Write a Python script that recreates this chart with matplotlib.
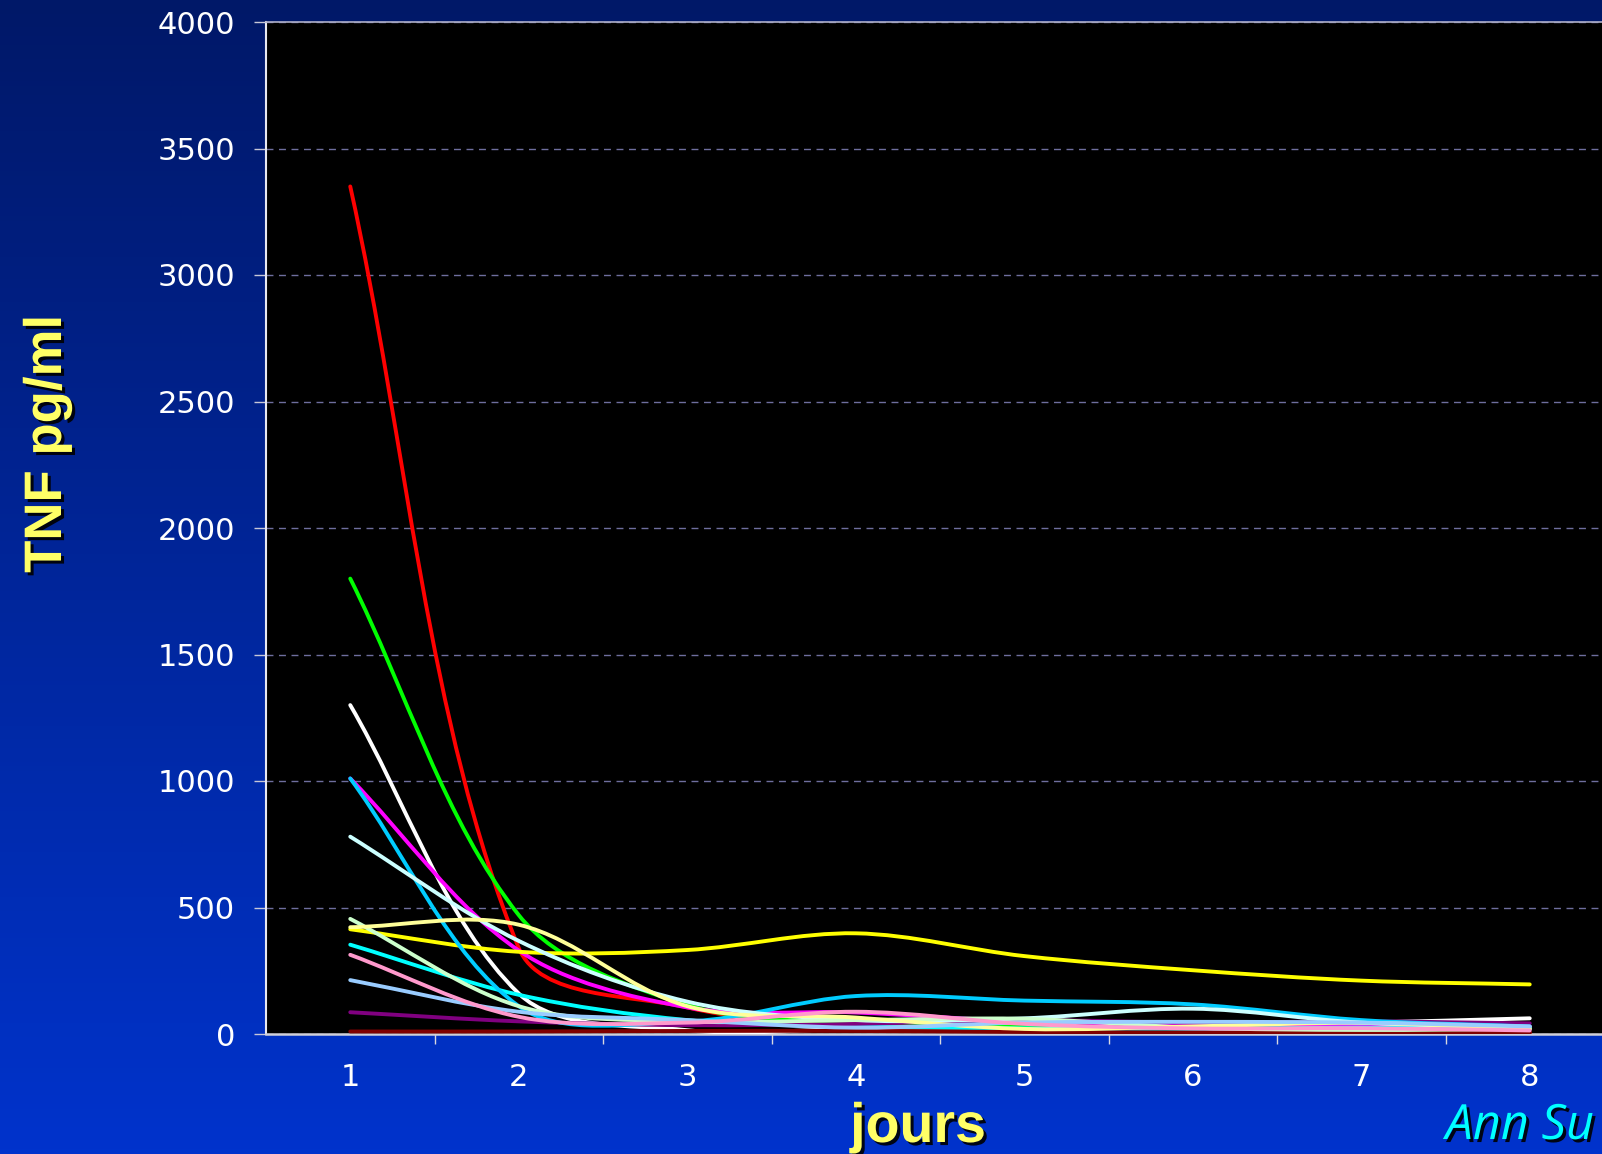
import numpy as np
import matplotlib
matplotlib.use("Agg")
import matplotlib.pyplot as plt
from matplotlib.path import Path
from matplotlib.patches import PathPatch
import matplotlib.patheffects as pe

# ---- data: TNF (pg/ml) per patient over 8 days ----
days = [1, 2, 3, 4, 5, 6, 7, 8]
day_labels = ["1", "2", "3", "4", "5", "6", "7", "8"]
y_ticks = [0, 500, 1000, 1500, 2000, 2500, 3000, 3500, 4000]
y_tick_labels = ["0", "500", "1000", "1500", "2000", "2500", "3000", "3500", "4000"]

tnf_white = [1300, 160, 15, 20, 20, 35, 45, 62]
tnf_red = [3350, 340, 105, 30, 15, 12, 10, 6]
tnf_green = [1800, 470, 115, 45, 30, 30, 32, 22]
tnf_magenta = [1010, 330, 105, 85, 50, 40, 35, 30]
tnf_yellow = [414, 325, 332, 398, 308, 252, 211, 196]
tnf_cyan = [353, 155, 55, 30, 22, 20, 25, 22]
tnf_purple = [86, 50, 35, 40, 55, 45, 50, 42]
tnf_darkred = [10, 10, 12, 12, 8, 6, 5, 5]
tnf_skyblue = [1010, 110, 50, 150, 132, 117, 55, 30]
tnf_turquoise = [780, 368, 128, 55, 62, 100, 45, 28]
tnf_lightgreen = [455, 110, 50, 55, 60, 25, 16, 20]
tnf_lightyellow = [422, 432, 110, 65, 20, 30, 44, 20]
tnf_paleblue = [213, 88, 55, 25, 45, 48, 45, 30]
tnf_rose = [313, 68, 45, 88, 40, 22, 23, 14]

series = [
    (tnf_white, "#ffffff"),
    (tnf_red, "#ff0000"),
    (tnf_green, "#00ff00"),
    (tnf_magenta, "#ff00ff"),
    (tnf_yellow, "#ffff00"),
    (tnf_cyan, "#00ffff"),
    (tnf_purple, "#800080"),
    (tnf_darkred, "#800000"),
    (tnf_skyblue, "#00ccff"),
    (tnf_turquoise, "#ccffff"),
    (tnf_lightgreen, "#ccffcc"),
    (tnf_lightyellow, "#ffff99"),
    (tnf_paleblue, "#99ccff"),
    (tnf_rose, "#ff99cc"),
]

W, H = 1602, 1154
fig = plt.figure(figsize=(W / 100, H / 100), dpi=100)

# slide background: vertical navy-to-blue gradient
bg = fig.add_axes([0, 0, 1, 1], zorder=0)
t = np.linspace(0, 1, 256)[:, None, None]
top_col = np.array([0x00, 0x18, 0x68]) / 255.0
bot_col = np.array([0x00, 0x33, 0xcc]) / 255.0
grad = top_col + (bot_col - top_col) * t
bg.imshow(grad, aspect="auto", extent=[0, 1, 0, 1], origin="upper")
bg.set_axis_off()

# plot area (runs past the right edge of the slide)
ax = fig.add_axes([266 / W, 120 / H, (1614 - 266) / W, 1012 / H], zorder=1)
ax.set_facecolor("black")
ax.set_xlim(0.5, 8.5)
ax.set_ylim(0, 4000)


def smooth_path(ax, xs, ys):
    """Smoothed line through the points: cubic Bezier segments whose
    control points follow the neighbouring chord, computed in screen space."""
    T = ax.transData
    P = T.transform(np.column_stack([xs, ys]).astype(float))
    n = len(P)
    cin = [None] * n
    cout = [None] * n
    for i in range(1, n - 1):
        tan = P[i + 1] - P[i - 1]
        dp = np.linalg.norm(P[i] - P[i - 1])
        dn = np.linalg.norm(P[i + 1] - P[i])
        s = dp + dn
        cin[i] = P[i] - tan * dp / s / 3.0
        cout[i] = P[i] + tan * dn / s / 3.0
    cout[0] = P[0] + (P[1] - P[0]) / 3.0
    cin[n - 1] = P[n - 1] + (P[n - 2] - P[n - 1]) / 3.0
    verts = [P[0]]
    codes = [Path.MOVETO]
    for i in range(n - 1):
        verts += [cout[i], cin[i + 1], P[i + 1]]
        codes += [Path.CURVE4] * 3
    verts = T.inverted().transform(np.array(verts))
    return Path(verts, codes)


for k, (vals, col) in enumerate(series):
    patch = PathPatch(smooth_path(ax, days, vals), facecolor="none",
                      edgecolor=col, lw=2.8, capstyle="round",
                      joinstyle="round", zorder=3 + k * 0.01)
    ax.add_patch(patch)

# axes styling
ax.set_yticks(y_ticks)
ax.set_yticklabels(y_tick_labels)
ax.set_xticks(days)
ax.set_xticklabels(day_labels)
ax.set_xticks(np.arange(1.5, 8.0, 1.0), minor=True)

ax.tick_params(axis="y", direction="out", length=8.6, width=1.0,
               color="#c8c8d8", pad=13.5, labelsize=22, labelcolor="white")
ax.tick_params(axis="x", which="major", length=0, pad=21,
               labelsize=22, labelcolor="white")
ax.tick_params(axis="x", which="minor", direction="out", length=7,
               width=1.0, color="#d8d8e0")
for lab in ax.get_xticklabels() + ax.get_yticklabels():
    lab.set_family("DejaVu Sans")

ax.yaxis.grid(True, color="#6e6e9e", linestyle=(0, (5, 4)), lw=1.0)
ax.set_axisbelow(True)

ax.spines["left"].set_color("#e8e8f0")
ax.spines["left"].set_linewidth(1.5)
ax.spines["bottom"].set_color("#d0d0d8")
ax.spines["bottom"].set_linewidth(1.8)
ax.spines["top"].set_color("#b0b0c8")
ax.spines["top"].set_linewidth(1.2)
ax.spines["right"].set_visible(False)

shadow = [pe.SimplePatchShadow(offset=(2.2, -2.2), shadow_rgbFace="black",
                               alpha=0.9), pe.Normal()]

fig.text(47 / W, 1 - 444 / H, "TNF pg/ml", rotation=90, ha="center",
         va="center", color="#ffff66", fontsize=38, fontweight="bold",
         family="Liberation Sans", path_effects=shadow)

fig.text(918 / W, (H - 1142) / H, "jours", ha="center", va="baseline",
         color="#ffff66", fontsize=40, fontweight="bold",
         family="Liberation Sans", path_effects=shadow)

fig.text(1594 / W, 15 / H, "Ann Su", ha="right", va="baseline",
         color="#00ffff", fontsize=35, style="italic",
         family="Open Sans", path_effects=shadow)

fig.savefig("out.png", dpi=100)
